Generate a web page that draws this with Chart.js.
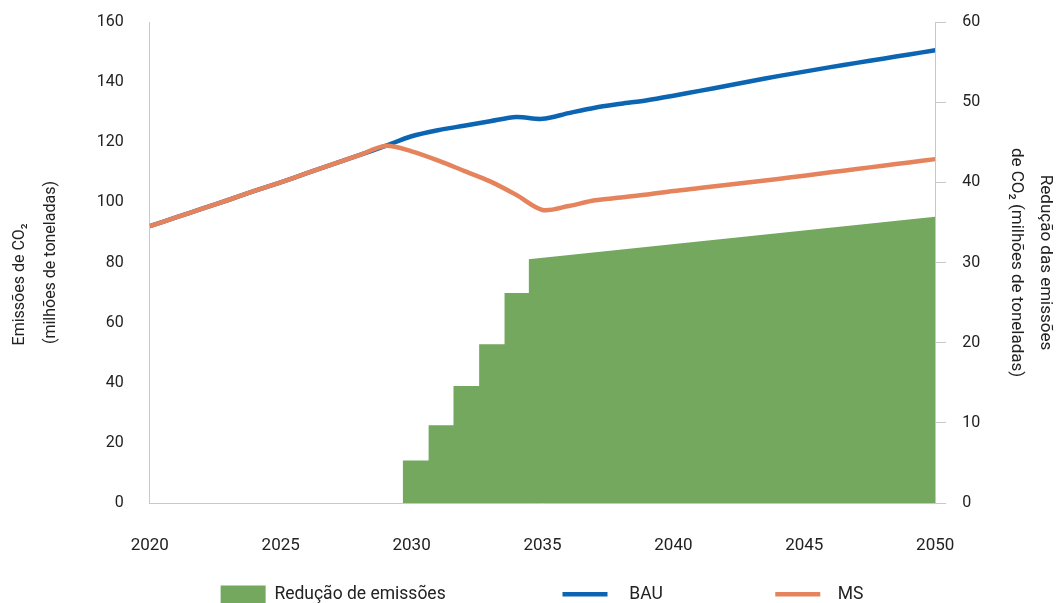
<!DOCTYPE html>
<html>
<head>
<meta charset="utf-8">
<script src="https://cdn.jsdelivr.net/npm/chart.js@4.4.0/dist/chart.umd.min.js"></script>
<style>
  html, body { margin: 0; padding: 0; background: #fff; }
  #wrap { width: 1062px; height: 603px; }
</style>
</head>
<body>
<div id="wrap"><canvas id="co2-chart"></canvas></div>
<script>
// anos e emissões (milhões de toneladas de CO2)
const years = [2020, 2021, 2022, 2023, 2024, 2025, 2026, 2027, 2028, 2029,
  2030, 2031, 2032, 2033, 2034, 2035, 2036, 2037, 2038, 2039,
  2040, 2041, 2042, 2043, 2044, 2045, 2046, 2047, 2048, 2049, 2050];
const bau = [92.1, 95.0, 97.9, 100.8, 103.8, 106.7, 109.7, 112.7, 115.7, 118.8,
  122.0, 124.0, 125.5, 127.0, 128.4, 127.8, 129.7, 131.5, 132.8, 134.0,
  135.5, 137.1, 138.7, 140.4, 142.0, 143.5, 145.0, 146.4, 147.8, 149.2, 150.6];
const ms = [92.1, 95.0, 97.9, 100.8, 103.8, 106.7, 109.7, 112.7, 115.7, 118.8,
  117.0, 114.0, 110.5, 107.0, 102.5, 97.5, 98.8, 100.7, 101.6, 102.6,
  103.8, 104.8, 105.8, 106.8, 107.8, 108.9, 110.0, 111.1, 112.2, 113.3, 114.4];

// redução das emissões (eixo da direita): degraus e depois rampa
const stepYears = [2029.66, 2030.65, 2031.6, 2032.58, 2033.55, 2034.5];
const stepValues = [5.3, 9.7, 14.6, 19.8, 26.2, 30.4];
const rampYears = [2034.47, 2050];
const rampValues = [30.4, 35.7];

const leftTicks = { min: 0, max: 160, step: 20 };
const rightTicks = { min: 0, max: 60, step: 10 };

function pontos(xs, ys) {
  return xs.map((x, i) => ({ x: x, y: ys[i] }));
}

const green = "#73a85e";
const blue = "#0b65b3";
const orange = "#e5835c";
const axisGray = "#c8c8c8";
const font = "Roboto";
const nb = (n) => "\u00a0".repeat(n);

// desloca a legenda um pouco para a direita, como no original
const legendOffset = {
  id: "legendOffset",
  afterLayout(chart) {
    chart.legend.left += 19;
  },
};

let ctx = document.getElementById("co2-chart").getContext("2d");
let chart = new Chart(ctx, {
  type: "line",
  plugins: [legendOffset],
  data: {
    datasets: [
      {
        label: "Redução de emissões",
        data: pontos(stepYears, stepValues),
        yAxisID: "y1",
        stepped: "before",
        fill: "origin",
        backgroundColor: green,
        borderColor: green,
        borderWidth: 0,
        pointRadius: 0,
        pointStyle: "rect",
        order: 2,
      },
      {
        label: "rampa",
        data: pontos(rampYears, rampValues),
        yAxisID: "y1",
        fill: "origin",
        backgroundColor: green,
        borderColor: green,
        borderWidth: 0,
        pointRadius: 0,
        order: 2,
      },
      {
        label: "BAU",
        data: pontos(years, bau),
        yAxisID: "y",
        borderColor: blue,
        backgroundColor: blue,
        borderWidth: 4.5,
        pointRadius: 0,
        pointStyle: "line",
        tension: 0.3,
        fill: false,
        order: 1,
      },
      {
        label: "MS",
        data: pontos(years, ms),
        yAxisID: "y",
        borderColor: orange,
        backgroundColor: orange,
        borderWidth: 4.5,
        pointRadius: 0,
        pointStyle: "line",
        tension: 0.3,
        fill: false,
        order: 0,
      },
    ],
  },
  options: {
    responsive: true,
    maintainAspectRatio: false,
    animation: false,
    layout: {
      padding: { top: 22, left: 5, right: 2, bottom: -10 },
    },
    scales: {
      x: {
        type: "linear",
        min: 2020,
        max: 2050,
        grid: { display: false, drawTicks: true, tickLength: 32 },
        border: { display: true, color: axisGray },
        ticks: {
          stepSize: 5,
          padding: 0,
          color: "#222",
          font: { family: font, size: 17 },
          callback: (v) => String(v),
        },
      },
      y: {
        position: "left",
        min: leftTicks.min,
        max: leftTicks.max,
        grid: { display: false, drawTicks: true, tickLength: 23 },
        border: { display: true, color: axisGray },
        ticks: {
          stepSize: leftTicks.step,
          padding: 3,
          color: "#222",
          font: { family: font, size: 16 },
        },
        title: {
          display: true,
          // a primeira linha fica alinhada pelo início, como no original
          text: ["Emissões de CO₂" + nb(11), "(milhões de toneladas)"],
          color: "#222",
          font: { family: font, size: 16, lineHeight: 1.9 },
          padding: { top: 0, bottom: 28 },
        },
      },
      y1: {
        position: "right",
        min: rightTicks.min,
        max: rightTicks.max,
        grid: {
          display: true,
          drawOnChartArea: false,
          drawTicks: true,
          tickLength: 25,
          tickBorderDash: [10, 60],
          color: axisGray,
        },
        border: { display: true, color: axisGray },
        ticks: {
          stepSize: rightTicks.step,
          padding: 2,
          color: "#222",
          font: { family: font, size: 16 },
        },
        title: {
          display: true,
          text: ["Redução das emissões", "de CO₂ (milhões de toneladas)"],
          color: "#222",
          font: { family: font, size: 17, lineHeight: 1.7 },
          padding: { top: 0, bottom: 20 },
        },
      },
    },
    plugins: {
      tooltip: { enabled: false },
      legend: {
        position: "bottom",
        labels: {
          usePointStyle: true,
          pointStyleWidth: 45,
          boxHeight: 18,
          padding: 30,
          color: "#222",
          font: { family: font, size: 17.5 },
          filter: (item) => item.datasetIndex !== 1,
          sort: (a, b) => a.datasetIndex - b.datasetIndex,
          generateLabels: function (chart) {
            let items = Chart.defaults.plugins.legend.labels.generateLabels(chart);
            // espaço extra entre os itens da legenda
            items.forEach((item) => {
              if (item.datasetIndex === 0) item.text = item.text + nb(20);
              if (item.datasetIndex === 2) item.text = nb(3) + item.text + nb(19);
              if (item.datasetIndex === 3) item.text = nb(2) + item.text;
            });
            return items;
          },
        },
      },
    },
  },
});
</script>
</body>
</html>
